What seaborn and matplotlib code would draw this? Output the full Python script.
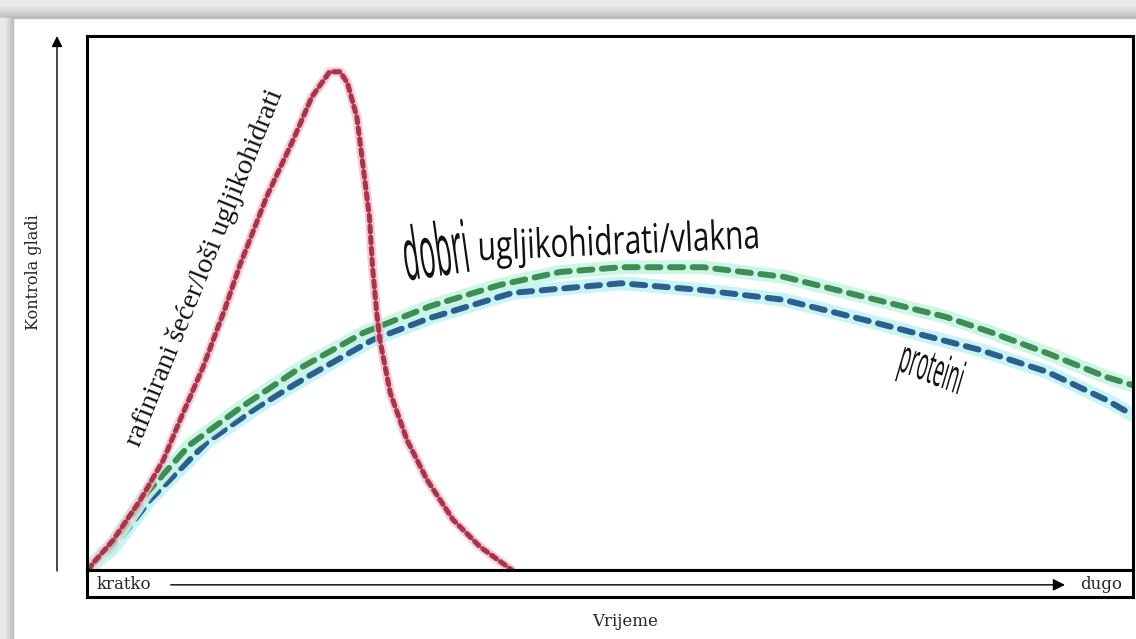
import numpy as np
import pandas as pd
import matplotlib
matplotlib.use('Agg')
import matplotlib.pyplot as plt
from matplotlib.patches import Rectangle, FancyArrowPatch
from matplotlib.patheffects import AbstractPathEffect
from matplotlib.transforms import Affine2D
import seaborn as sns

# x: vrijeme (0 = kratko, 100 = dugo), y: kontrola gladi (0 - 100)
secer_x = [0.1, 0.6, 2.5, 5.1, 7.3, 8.9, 11.1, 13.2, 14.6, 17.2, 19.7, 21.5, 23.2, 24.2,
           24.9, 25.8, 26.4, 27.0, 27.3, 27.7, 28.0, 29.0, 30.6, 32.5, 35.0, 37.6, 40.2, 40.6]
secer_y = [0.0, 1.3, 5.6, 13.1, 20.6, 28.1, 38.0, 49.0, 57.0, 70.0, 80.5, 88.6, 93.3, 93.3,
           91.2, 84.8, 75.5, 66.1, 56.7, 48.1, 43.1, 33.1, 24.3, 16.9, 9.4, 4.3, 0.6, 0.0]

vlakna_x = [0.3, 2.5, 5.7, 9.8, 14.6, 20.1, 26.4, 32.8, 39.5, 45.2, 51.1, 58.9,
            66.6, 74.4, 82.1, 86.3, 91.8, 97.5, 100.0]
vlakna_y = [0.7, 5.1, 14.4, 23.4, 30.3, 37.5, 44.4, 49.4, 53.4, 55.8, 56.7, 56.7,
            54.9, 51.1, 47.4, 44.6, 40.6, 36.1, 34.6]

proteini_x = [0.2, 2.5, 6.0, 11.5, 16.3, 21.0, 27.3, 32.8, 40.7, 51.1, 58.9,
              66.6, 74.4, 85.4, 91.8, 97.5, 100.0]
proteini_y = [0.4, 4.1, 13.1, 24.0, 30.5, 36.1, 43.1, 47.2, 51.9, 53.7, 52.4,
              50.6, 46.8, 41.2, 37.1, 31.8, 29.0]

lbl_secer = 'rafinirani šećer/loši ugljikohidrati'
lbl_dobri = 'dobri'
lbl_vlakna = 'ugljikohidrati/vlakna'
lbl_proteini = 'proteini'
y_naslov = 'Kontrola gladi'
x_naslov = 'Vrijeme'
x_lijevo = 'kratko'
x_desno = 'dugo'

sns.set_style('white')
serif = ['Liberation Serif', 'DejaVu Serif']
slab = ['DejaVu Serif']
sans = ['Open Sans', 'DejaVu Sans']
plt.rcParams['font.family'] = serif


class Stretch(AbstractPathEffect):
    """Scale / shear the glyphs in the text's own frame (the text stays a Text)."""

    def __init__(self, sx=1.0, sy=1.0, skew=0.0):
        super().__init__()
        self._t = Affine2D().skew_deg(skew, 0).scale(sx, sy)

    def draw_path(self, renderer, gc, tpath, affine, rgbFace=None):
        renderer.draw_path(gc, tpath, self._t + affine, rgbFace)


W, H = 1136, 639
fig = plt.figure(figsize=(W / 100, H / 100), dpi=100)
fig.patch.set_facecolor('white')

# grey picture frame (top and left), drawn behind the axes
for i, c in enumerate(['#bdbdbd', '#c8c8c8', '#d3d3d3', '#dedede', '#e8e8e8']):
    fig.patches.append(Rectangle((0, 1 - (18 - i * 3) / H), 1, (18 - i * 3) / H,
                                 transform=fig.transFigure, color=c, zorder=-10))
    fig.patches.append(Rectangle((0, 0), (13 - i * 2) / W, 1 - 18 / H,
                                 transform=fig.transFigure, color=c, zorder=-10))


def px_box(x0, y0, x1, y1):
    return [x0 / W, 1 - y1 / H, (x1 - x0) / W, (y1 - y0) / H]


ax = fig.add_axes(px_box(87, 36, 1133, 570))
strip = fig.add_axes(px_box(87, 570, 1133, 597))
ax.set_zorder(2)
strip.set_zorder(2)


def dashed_curve(xs, ys, color, glow, lw, glow_lw, glow_alpha, dash):
    df = pd.DataFrame({'x': xs, 'y': ys})
    sns.lineplot(data=df, x='x', y='y', ax=ax, color=glow, linewidth=glow_lw,
                 sort=False, estimator=None, alpha=glow_alpha)
    sns.lineplot(data=df, x='x', y='y', ax=ax, color=color, linewidth=lw,
                 sort=False, estimator=None)
    line = ax.lines[-1]
    line.set_dashes(dash)
    line.set_dash_capstyle('round')


dashed_curve(proteini_x, proteini_y, '#2d5f8e', '#c4f3f5', 4.3, 10, 0.9, (2.2, 1.6))
dashed_curve(vlakna_x, vlakna_y, '#3d8d55', '#c8f5e4', 4.3, 10, 0.9, (2.2, 1.6))
dashed_curve(secer_x, secer_y, '#a8344a', '#f7bccb', 3.6, 6.5, 0.8, (1.2, 1.0))

ax.set_xlim(0, 100)
ax.set_ylim(0, 100)
ax.set_xticks([])
ax.set_yticks([])
ax.set_xlabel('')
ax.set_ylabel('')
for sp in ax.spines.values():
    sp.set_visible(True)
    sp.set_color('black')
    sp.set_linewidth(2.2)

ax.text(11.3, 56.6, lbl_secer, rotation=68, rotation_mode='anchor', ha='center',
        va='center', fontsize=20.5, family=serif, color='#111111')
ax.text(30.5, 54.2, lbl_dobri, rotation=8, rotation_mode='anchor', ha='left',
        va='baseline', fontsize=17.5, family=sans, color='#111111',
        path_effects=[Stretch(1.1, 3.0)])
ax.text(37.4, 58.0, lbl_vlakna, rotation=2.5, rotation_mode='anchor', ha='left',
        va='baseline', fontsize=21.5, family=sans, color='#111111',
        path_effects=[Stretch(1.0, 1.35)])
ax.text(77.4, 37.5, lbl_proteini, rotation=-22, rotation_mode='anchor', ha='left',
        va='baseline', fontsize=16.5, family=sans, color='#111111',
        path_effects=[Stretch(0.8, 2.0, -14)])

# bottom strip: kratko -> dugo
strip.set_xlim(0, 100)
strip.set_ylim(0, 1)
strip.set_xticks([])
strip.set_yticks([])
for sp in strip.spines.values():
    sp.set_visible(True)
    sp.set_color('black')
    sp.set_linewidth(2.2)
strip.text(0.9, 0.45, x_lijevo, ha='left', va='center', fontsize=12, family=slab)
strip.text(99.0, 0.45, x_desno, ha='right', va='center', fontsize=12, family=slab)
strip.annotate('', xy=(93.5, 0.45), xytext=(8.0, 0.45),
               arrowprops=dict(arrowstyle='-|>', color='black', lw=1.0,
                               mutation_scale=18, shrinkA=0, shrinkB=0))

# vertical arrow and axis titles
fig.add_artist(FancyArrowPatch(
    (57 / W, 1 - 571 / H), (57 / W, 1 - 36 / H), transform=fig.transFigure,
    arrowstyle='-|>', mutation_scale=16, color='black', lw=1.0, shrinkA=0, shrinkB=0))
fig.text(33 / W, 1 - 272 / H, y_naslov, rotation=90, ha='center', va='center',
         fontsize=11.5, family=slab)
fig.text(625 / W, 1 - 622 / H, x_naslov, ha='center', va='center',
         fontsize=12, family=slab)

fig.savefig('out.png', dpi=100)
